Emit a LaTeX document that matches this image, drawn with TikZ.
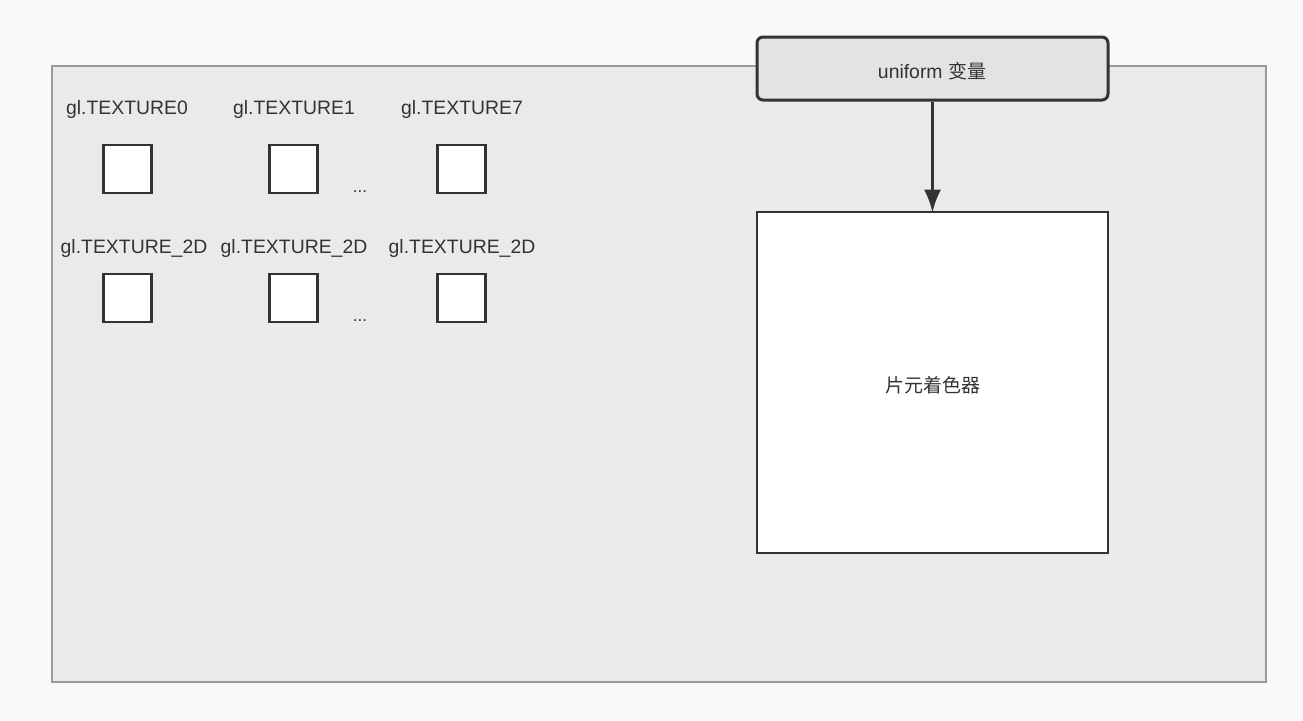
\documentclass[tikz,border=0pt]{standalone}
\usepackage{fontspec}
\setmainfont{Liberation Sans}
\newfontfamily\cjk{Noto Sans CJK SC}
\usetikzlibrary{arrows.meta}
\definecolor{bgc}{HTML}{F9F9F9}
\definecolor{framefill}{HTML}{EAEAEA}
\definecolor{framedraw}{HTML}{999999}
\definecolor{ink}{HTML}{333333}
\definecolor{unifill}{HTML}{E3E3E3}
\tikzset{
  texbox/.style={draw=ink, line width=2.6pt, fill=white, minimum width=48pt, minimum height=48pt, inner sep=0pt},
  lbl/.style={text=ink, font=\fontsize{19.4}{22}\selectfont, inner sep=0pt, anchor=base},
  dots/.style={text=ink, font=\fontsize{17}{19}\selectfont, inner sep=0pt, anchor=base},
}
\begin{document}
\begin{tikzpicture}[x=1pt,y=-1pt]
\useasboundingbox[fill=bgc] (0,0) rectangle (1303,720);
\draw[draw=framedraw, fill=framefill, line width=2pt] (52,66) rectangle (1266,682);
% row 1
\node[lbl] (l0) at (127,114) {gl.TEXTURE0};
\node[lbl] (l1) at (294,114) {gl.TEXTURE1};
\node[lbl] (l7) at (462,114) {gl.TEXTURE7};
\node[texbox] (t0) at (127.5,169) {};
\node[texbox] (t1) at (293.5,169) {};
\node[texbox] (t7) at (461.5,169) {};
\node[dots] (d1) at (360,192) {...};
% row 2
\node[lbl] (m0) at (134,253) {gl.TEXTURE\_2D};
\node[lbl] (m1) at (294,253) {gl.TEXTURE\_2D};
\node[lbl] (m7) at (462,253) {gl.TEXTURE\_2D};
\node[texbox] (s0) at (127.5,298) {};
\node[texbox] (s1) at (293.5,298) {};
\node[texbox] (s7) at (461.5,298) {};
\node[dots] (d2) at (360,321) {...};
% uniform
\node[draw=ink, line width=3pt, fill=unifill, rounded corners=6pt, minimum width=351pt, minimum height=63pt, inner sep=0pt] (uni) at (932.5,68.5) {};
\node[text=ink, font=\fontsize{19.4}{22}\selectfont, inner sep=0pt] (unitxt) at (932,71.5) {uniform {\cjk\fontsize{19}{22}\selectfont 变量}};
\node[draw=ink, line width=2.6pt, fill=white, minimum width=351pt, minimum height=341pt, inner sep=0pt] (frag) at (932.5,382.5) {};
\node[text=ink, font=\cjk\fontsize{19}{22}\selectfont, inner sep=0pt] (fragtxt) at (932.5,385.5) {片元着色器};
\draw[ink, line width=3pt, shorten >=-2pt, -{Latex[length=23pt,width=17pt]}] (uni.south) -- (frag.north);
\end{tikzpicture}
\end{document}
